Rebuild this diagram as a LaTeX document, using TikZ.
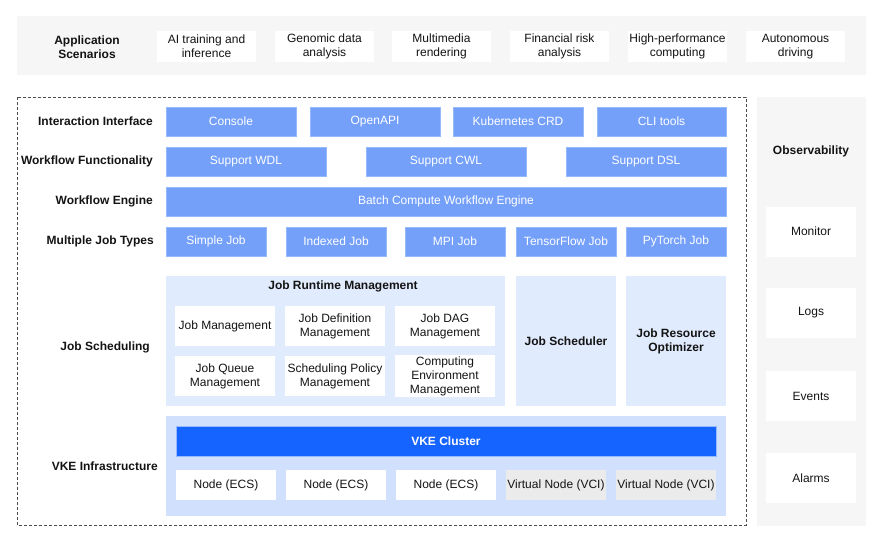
\documentclass[tikz,border=0pt]{standalone}
\usepackage{fontspec}
\setmainfont{Liberation Sans}
\definecolor{bluebox}{RGB}{116,160,250}
\definecolor{blueedge}{RGB}{150,185,252}
\definecolor{lightpanel}{RGB}{224,235,253}
\definecolor{vkepanel}{RGB}{209,224,252}
\definecolor{vkeblue}{RGB}{22,100,255}
\definecolor{graypanel}{RGB}{246,246,246}
\definecolor{vnode}{RGB}{235,235,235}
\definecolor{txt}{RGB}{20,20,20}
\tikzset{
  base/.style={inner sep=1pt, align=center, font=\fontsize{12}{14}\selectfont, text=txt},
  bluecell/.style={base, fill=bluebox, draw=blueedge, line width=0.6pt, text=white, minimum height=29pt},
  whitecell/.style={base, fill=white, draw=none},
  graycell/.style={base, fill=vnode, draw=none},
  panel/.style={fill=lightpanel, draw=none},
  rowlabel/.style={base, font=\fontsize{12}{14}\selectfont\bfseries, anchor=east},
  boldtxt/.style={base, font=\fontsize{12}{14}\selectfont\bfseries},
}
\begin{document}
\begin{tikzpicture}[x=1pt,y=-1pt]
\useasboundingbox (0,0) rectangle (883,543);
\fill[white] (0,0) rectangle (883,543);

% Application scenarios band
\fill[graypanel] (17,16) rectangle (866,75);
\node[boldtxt] (appl) at (87,47) {Application\\Scenarios};
\foreach \x/\t/\n in {206.5/{AI training and\\inference}/s1, 324.5/{Genomic data\\analysis}/s2, 441.5/{Multimedia\\rendering}/s3, 559.5/{Financial risk\\analysis}/s4, 677.5/{High-performance\\computing}/s5, 795.5/{Autonomous\\driving}/s6}
  \node[whitecell, minimum width=99pt, minimum height=31pt] (\n) at (\x,46.5) {\t};

% dashed frame
\draw[dashed, dash pattern=on 3pt off 2pt, draw=black!70, line width=0.6pt] (17,97) rectangle (746,525);

% row labels
\node[rowlabel] (l1) at (154,121.5) {Interaction Interface};
\node[rowlabel] (l2) at (154,161.5) {Workflow Functionality};
\node[rowlabel] (l3) at (154,201.5) {Workflow Engine};
\node[rowlabel] (l4) at (155,241.5) {Multiple Job Types};
\node[rowlabel] (l5) at (151,347) {Job Scheduling};
\node[rowlabel] (l6) at (159,466) {VKE Infrastructure};

% row 1
\node[bluecell, minimum width=130pt] (console) at (231,121.5) {Console};
\node[bluecell, minimum width=130pt] (openapi) at (375,121.5) {OpenAPI};
\node[bluecell, minimum width=130pt] (crd) at (518,121.5) {Kubernetes CRD};
\node[bluecell, minimum width=129pt] (cli) at (661.5,121.5) {CLI tools};
% row 2
\node[bluecell, minimum width=160pt] (wdl) at (246,161.5) {Support WDL};
\node[bluecell, minimum width=160pt] (cwl) at (446,161.5) {Support CWL};
\node[bluecell, minimum width=160pt] (dsl) at (646,161.5) {Support DSL};
% row 3
\node[bluecell, minimum width=560pt] (engine) at (446,201.5) {Batch Compute Workflow Engine};
% row 4
\node[bluecell, minimum width=100pt] (simple) at (216,241.5) {Simple Job};
\node[bluecell, minimum width=100pt] (indexed) at (336,241.5) {Indexed Job};
\node[bluecell, minimum width=100pt] (mpi) at (455,241.5) {MPI Job};
\node[bluecell, minimum width=100pt] (tf) at (566,241.5) {TensorFlow Job};
\node[bluecell, minimum width=100pt] (pt) at (676,241.5) {PyTorch Job};

% job scheduling
\fill[panel] (166,276) rectangle (505,406);
\node[boldtxt] (jrm) at (343,286) {Job Runtime Management};
\node[whitecell, minimum width=100pt, minimum height=40pt] (jm) at (225,326) {Job Management};
\node[whitecell, minimum width=100pt, minimum height=40pt] (jdm) at (335,326) {Job Definition\\Management};
\node[whitecell, minimum width=100pt, minimum height=40pt] (jdag) at (445,326) {Job DAG\\Management};
\node[whitecell, minimum width=100pt, minimum height=40pt] (jqm) at (225,376) {Job Queue\\Management};
\node[whitecell, minimum width=100pt, minimum height=40pt] (spm) at (335,376) {Scheduling Policy\\Management};
\node[whitecell, minimum width=100pt, minimum height=40pt] (cem) at (445,376) {Computing\\Environment\\Management};
\node[boldtxt, minimum width=100pt, minimum height=130pt, fill=lightpanel] (js) at (566,341) {Job Scheduler};
\node[boldtxt, minimum width=100pt, minimum height=130pt, fill=lightpanel] (jro) at (676,341) {Job Resource\\Optimizer};

% VKE
\fill[vkepanel] (166,416) rectangle (726,516);
\node[base, fill=vkeblue, draw=blueedge, line width=0.6pt, text=white, font=\fontsize{12}{14}\selectfont\bfseries, minimum width=540pt, minimum height=30pt] (vke) at (446,441) {VKE Cluster};
\node[whitecell, minimum width=100pt, minimum height=30pt] (n1) at (226,485) {Node (ECS)};
\node[whitecell, minimum width=100pt, minimum height=30pt] (n2) at (336,485) {Node (ECS)};
\node[whitecell, minimum width=100pt, minimum height=30pt] (n3) at (446,485) {Node (ECS)};
\node[graycell, minimum width=100pt, minimum height=30pt] (v1) at (556,485) {Virtual Node (VCI)};
\node[graycell, minimum width=100pt, minimum height=30pt] (v2) at (666,485) {Virtual Node (VCI)};

% observability
\fill[graypanel] (757,97) rectangle (866,526);
\node[boldtxt] (obs) at (811,151) {Observability};
\node[whitecell, minimum width=90pt, minimum height=50pt] (mon) at (811,231.5) {Monitor};
\node[whitecell, minimum width=90pt, minimum height=50pt] (logs) at (811,313) {Logs};
\node[whitecell, minimum width=90pt, minimum height=50pt] (events) at (811,396) {Events};
\node[whitecell, minimum width=90pt, minimum height=50pt] (alarms) at (811,478) {Alarms};
\end{tikzpicture}
\end{document}
